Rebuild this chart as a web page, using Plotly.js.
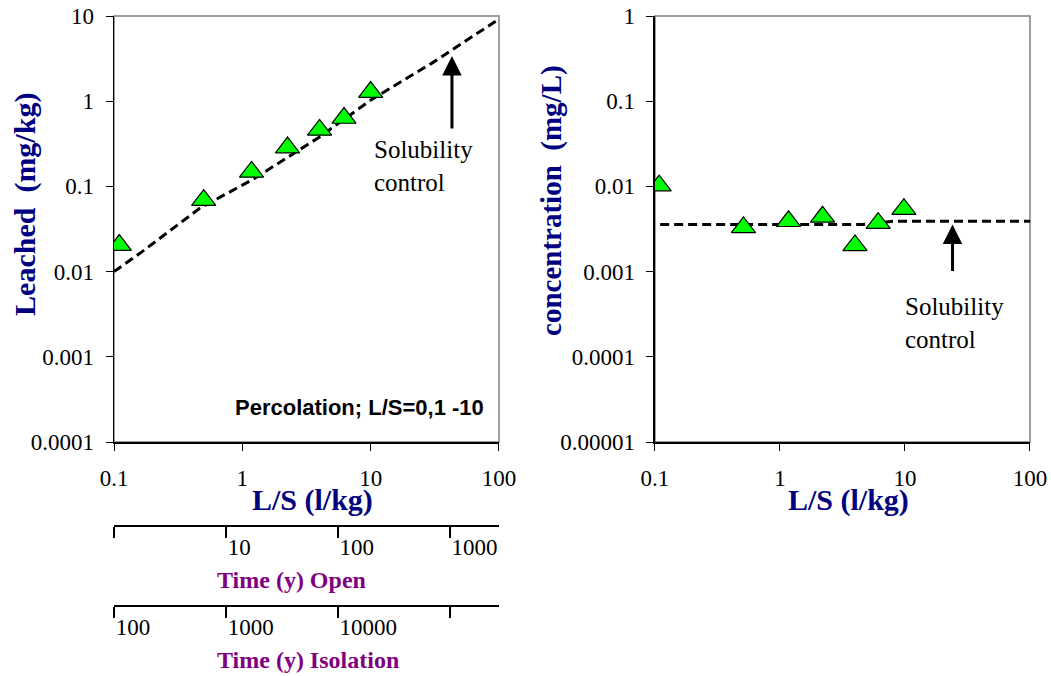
<!DOCTYPE html>
<html>
<head>
<meta charset="utf-8">
<script src="https://cdn.plot.ly/plotly-3.0.1.min.js"></script>
<style>html,body{margin:0;padding:0;background:#fff}#chart{width:1051px;height:676px}</style>
</head>
<body>
<div id="chart"></div>
<script>
// ---- data ----
const lsLeft = [0.11, 0.5, 1.18, 2.25, 4.0, 6.2, 10];
const leached = [0.0205, 0.069, 0.148, 0.286, 0.46, 0.635, 1.28];
const solLSLeft = [0.1, 0.16, 0.47, 1.2, 4, 10, 30, 43, 100];
const solLeached = [0.01, 0.0165, 0.056, 0.12, 0.38, 1.03, 2.8, 4.0, 9.2];

const lsRight = [0.108, 0.51, 1.17, 2.19, 3.98, 6.1, 9.8];
const conc = [0.0102, 0.0033, 0.0039, 0.0044, 0.00203, 0.0037, 0.0054];
const solLSRight = [0.11, 4.6, 8, 100];
const solConc = [0.00357, 0.00357, 0.0039, 0.0039];

const lsTicks = [0.1, 1, 10, 100];
const lsTickText = ['0.1', '1', '10', '100'];
const leachTicks = [0.0001, 0.001, 0.01, 0.1, 1, 10];
const leachTickText = ['0.0001', '0.001', '0.01', '0.1', '1', '10'];
const concTicks = [0.00001, 0.0001, 0.001, 0.01, 0.1, 1];
const concTickText = ['0.00001', '0.0001', '0.001', '0.01', '0.1', '1'];

const openTicks = [1, 10, 100, 1000];
const openTickText = ['', '10', '100', '1000'];
const isoTicks = [100, 1000, 10000, 100000];
const isoTickText = ['100', '1000', '10000', ''];

const arrowLS = [43, 24];
const arrowVal = [3.4, 0.00357];

// ---- styles ----
const serif = 'Liberation Serif, Times New Roman, serif';
const navy = '#000080';
const purple = '#800080';
const tickFont = {family: serif, size: 23, color: '#000'};

const markerStyle = {symbol: 'triangle-up', size: 21, color: '#00ff00', line: {color: '#000', width: 1.2}};
const dashStyle = {color: '#000', width: 3, dash: '9px,5px'};

const traces = [
  {x: solLSLeft, y: solLeached, xaxis: 'x', yaxis: 'y', mode: 'lines', line: dashStyle, hoverinfo: 'skip'},
  {x: lsLeft, y: leached, xaxis: 'x', yaxis: 'y', mode: 'markers', marker: markerStyle},
  {x: solLSRight, y: solConc, xaxis: 'x2', yaxis: 'y2', mode: 'lines', line: dashStyle, hoverinfo: 'skip'},
  {x: lsRight, y: conc, xaxis: 'x2', yaxis: 'y2', mode: 'markers', marker: markerStyle},
  {x: [openTicks[0], openTicks[3]], y: [null, null], xaxis: 'x3', yaxis: 'y', mode: 'lines', hoverinfo: 'skip'},
  {x: [isoTicks[0], isoTicks[3]], y: [null, null], xaxis: 'x4', yaxis: 'y', mode: 'lines', hoverinfo: 'skip'}
];

const baseAxis = {
  type: 'log', showgrid: false, zeroline: false, showline: true,
  linecolor: '#000', linewidth: 1.5, ticks: 'outside', ticklen: 7, tickwidth: 1,
  tickcolor: '#000', tickfont: tickFont, tickmode: 'array', fixedrange: true
};

const timeAxis = {
  type: 'log', showgrid: false, zeroline: false, showline: true,
  linecolor: '#000', linewidth: 2, ticks: 'outside', ticklen: 11, tickwidth: 1.5,
  tickcolor: '#000', tickfont: tickFont, tickmode: 'array',
  overlaying: 'x', anchor: 'free', ticklabelposition: 'outside right', fixedrange: true
};

const xL = [0, 0.4203], xR = [0.5906, 1], yD = [0.3545, 1];

function ann(text, x, y, size, color, extra) {
  return Object.assign({text: text, xref: 'paper', yref: 'paper', x: x, y: y, xanchor: 'center', yanchor: 'middle',
    showarrow: false, font: {family: serif, size: size, color: color}}, extra || {});
}

const layout = {
  width: 1051, height: 676,
  margin: {l: 114, r: 21, t: 16, b: 0},
  paper_bgcolor: '#fff', plot_bgcolor: '#fff',
  showlegend: false,
  xaxis: Object.assign({}, baseAxis, {domain: xL, anchor: 'y', range: [-1, 2], tickvals: lsTicks, ticktext: lsTickText, ticklabelstandoff: 8}),
  yaxis: Object.assign({}, baseAxis, {domain: yD, anchor: 'x', range: [-4, 1], tickvals: leachTicks, ticktext: leachTickText, ticklabelstandoff: 7}),
  xaxis2: Object.assign({}, baseAxis, {domain: xR, anchor: 'y2', range: [-1, 2], tickvals: lsTicks, ticktext: lsTickText, ticklabelstandoff: 8}),
  yaxis2: Object.assign({}, baseAxis, {domain: yD, anchor: 'x2', range: [-5, 0], tickvals: concTicks, ticktext: concTickText, ticklabelstandoff: 7}),
  xaxis3: Object.assign({}, timeAxis, {domain: xL, position: 0.2273, range: [0, 3.44], tickvals: openTicks, ticktext: openTickText}),
  xaxis4: Object.assign({}, timeAxis, {domain: xL, position: 0.106, range: [2, 5.44], tickvals: isoTicks, ticktext: isoTickText}),
  shapes: [
    {type: 'rect', xref: 'x domain', yref: 'y domain', x0: 0, x1: 1, y0: 0, y1: 1, line: {color: '#808080', width: 1.5}, layer: 'below'},
    {type: 'rect', xref: 'x2 domain', yref: 'y2 domain', x0: 0, x1: 1, y0: 0, y1: 1, line: {color: '#808080', width: 1.5}, layer: 'below'}
  ],
  annotations: [
    ann('<b>Leached  (mg/kg)</b>', -0.0972, 0.7152, 30, navy, {textangle: -90}),
    ann('<b>concentration  (mg/L)</b>', 0.477, 0.7212, 29, navy, {textangle: -90}),
    ann('<b>L/S (l/kg)</b>', 0.2162, 0.2667, 30, navy),
    ann('<b>L/S (l/kg)</b>', 0.8024, 0.2667, 30, navy),
    ann('<b>Time (y) Open</b>', 0.1103, 0.1455, 24, purple, {xanchor: 'left'}),
    ann('<b>Time (y) Isolation</b>', 0.1103, 0.0242, 24, purple, {xanchor: 'left'}),
    {text: '<b>Percolation; L/S=0,1 -10</b>', xref: 'x domain', yref: 'y domain', x: 0.966, y: 0.082, xanchor: 'right', yanchor: 'middle', showarrow: false, font: {family: 'Liberation Sans, Arial, sans-serif', size: 22, color: '#000'}},
    {text: 'Solubility<br>control', xref: 'x domain', yref: 'y domain', x: 0.67, y: 0.648, xanchor: 'left', yanchor: 'middle', align: 'left', showarrow: false, font: {family: serif, size: 25, color: '#000'}},
    {text: 'Solubility<br>control', xref: 'x2 domain', yref: 'y2 domain', x: 0.661, y: 0.28, xanchor: 'left', yanchor: 'middle', align: 'left', showarrow: false, font: {family: serif, size: 25, color: '#000'}},
    {text: '', xref: 'x', yref: 'y', x: Math.log10(arrowLS[0]), y: Math.log10(arrowVal[0]), showarrow: true, ax: 0, ay: 74, arrowhead: 2, arrowsize: 1.3, arrowwidth: 3, arrowcolor: '#000'},
    {text: '', xref: 'x2', yref: 'y2', x: Math.log10(arrowLS[1]), y: Math.log10(arrowVal[1]), showarrow: true, ax: 0, ay: 48, arrowhead: 2, arrowsize: 1.3, arrowwidth: 3, arrowcolor: '#000'}
  ]
};

Plotly.newPlot('chart', traces, layout, {displayModeBar: false, staticPlot: true});
</script>
</body>
</html>
